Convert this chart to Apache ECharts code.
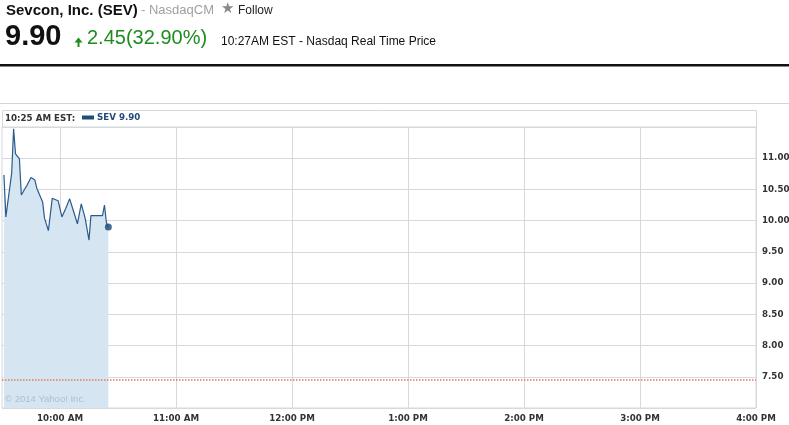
<!DOCTYPE html>
<html>
<head>
<meta charset="utf-8">
<title>Sevcon, Inc. (SEV)</title>
<script src="https://cdn.jsdelivr.net/npm/echarts@6/dist/echarts.min.js"></script>
<style>
  html, body { margin: 0; padding: 0; background: #fff; }
  #chart { width: 789px; height: 425px; }
</style>
</head>
<body>
<div id="chart"></div>
<script>
// intraday quotes (EST)
var times = ['9:31', '9:32', '9:35', '9:36', '9:37', '9:39', '9:40', '9:42', '9:43', '9:45',
  '9:47', '9:48', '9:51', '9:52', '9:54', '9:56', '9:57', '9:59', '10:00', '10:01',
  '10:03', '10:05', '10:07', '10:09', '10:11', '10:13', '10:15', '10:16', '10:19', '10:22',
  '10:23', '10:24', '10:25'];
var prices = [10.73, 10.06, 10.76, 11.47, 11.07, 10.99, 10.41, 10.52, 10.57, 10.69,
  10.65, 10.52, 10.30, 10.04, 9.84, 10.36, 10.37, 10.32, 10.30, 10.06,
  10.20, 10.35, 10.15, 9.95, 10.27, 10.04, 9.69, 10.08, 10.08, 10.08,
  10.25, 9.97, 9.90];
var prevClose = 7.45;
var sessionOpen = '9:30';
var sessionClose = '16:00';
var hourLabels = ['10:00 AM', '11:00 AM', '12:00 PM', '1:00 PM', '2:00 PM', '3:00 PM', '4:00 PM'];

var quote = { name: 'Sevcon, Inc. (SEV)', exchange: 'NasdaqCM', last: '9.90', change: '2.45', pct: '(32.90%)', stamp: '10:27AM EST - Nasdaq Real Time Price' };

function toMin(t) {
  var p = t.split(':');
  return parseInt(p[0], 10) * 60 + parseInt(p[1], 10);
}

var seriesData = times.map(function (t, i) { return [toMin(t), prices[i]]; });
var lastPoint = seriesData[seriesData.length - 1];

var small = 'bold 8.7px "DejaVu Sans"';
var axisFont = { fontFamily: 'DejaVu Sans', fontWeight: 'bold', fontSize: 8.7, color: '#333' };

var chart = echarts.init(document.getElementById('chart'), null, { renderer: 'canvas' });

var option = {
  animation: false,
  backgroundColor: '#fff',
  grid: {
    left: 2, right: 33, top: 127, bottom: 17,
    outerBoundsMode: 'none',
    containLabel: false,
    show: true, borderColor: '#d3d8dc', borderWidth: 1, backgroundColor: '#fff'
  },
  legend: {
    data: ['SEV'],
    left: 82, top: 113,
    icon: 'rect', itemWidth: 12, itemHeight: 4, itemGap: 4,
    padding: 0,
    formatter: function (n) { return n + ' ' + quote.last; },
    textStyle: { fontFamily: 'DejaVu Sans', fontWeight: 'bold', fontSize: 8.7, color: '#1f4a78', padding: [0, 0, 0, -2] }
  },
  xAxis: {
    type: 'value',
    min: toMin(sessionOpen), max: toMin(sessionClose), interval: 30,
    axisLine: { show: false },
    axisTick: { show: false },
    axisLabel: Object.assign({
      margin: 6,
      formatter: function (v) {
        if (v % 60 !== 0) return '';
        return hourLabels[(v - 600) / 60] || '';
      }
    }, axisFont),
    splitLine: { show: true, lineStyle: { color: ['rgba(0,0,0,0)', '#d5dadf'], width: 1 } }
  },
  yAxis: {
    type: 'value', position: 'right',
    min: 7, max: 11.5, interval: 0.5,
    axisLine: { show: false },
    axisTick: { show: false },
    axisLabel: Object.assign({
      margin: 6,
      formatter: function (v) { return (v <= 7 || v >= 11.5) ? '' : v.toFixed(2); }
    }, axisFont),
    splitLine: { lineStyle: { color: '#d5dadf' } }
  },
  series: [
    {
      name: 'SEV', type: 'line', data: seriesData,
      showSymbol: false,
      color: '#1f4e79',
      lineStyle: { color: '#2b5b8c', width: 1.2 },
      areaStyle: { color: '#d5e5f1', opacity: 1, origin: 'start' },
      markLine: {
        silent: true, symbol: ['none', 'none'],
        label: { show: false },
        lineStyle: { color: '#e07b5a', type: 'dotted', width: 1.5 },
        data: [{ yAxis: prevClose }]
      },
      z: 2
    },
    {
      name: 'last', type: 'scatter', data: [lastPoint],
      symbolSize: 7, itemStyle: { color: '#1a4674' }, z: 3
    }
  ],
  graphic: [
    // header
    { type: 'text', left: 6, top: 3, style: { text: quote.name, font: 'bold 15px "Liberation Sans"', fill: '#111' } },
    { type: 'text', left: 141, top: 4, style: { text: '- ' + quote.exchange, font: '13px "Liberation Sans"', fill: '#a0a0a0' } },
    { type: 'text', left: 221, top: 2, style: { text: '\u2605', font: '15px "DejaVu Sans"', fill: '#8a8a8a' } },
    { type: 'text', left: 238, top: 5, style: { text: 'Follow', font: '12px "Liberation Sans"', fill: '#222' } },
    { type: 'text', left: 5, top: 22, style: { text: quote.last, font: 'bold 29px "Liberation Sans"', fill: '#111' } },
    { type: 'polygon', shape: { points: [[74.5, 42.5], [78.5, 37.5], [82.5, 42.5]] }, style: { fill: '#1e8c1e' } },
    { type: 'rect', shape: { x: 77.5, y: 42, width: 2, height: 5 }, style: { fill: '#1e8c1e' } },
    { type: 'text', left: 87, top: 28, style: { text: quote.change + quote.pct, font: '20px "Liberation Sans"', fill: '#1e8c1e' } },
    { type: 'text', left: 221, top: 36, style: { text: quote.stamp, font: '12px "Liberation Sans"', fill: '#111' } },
    { type: 'rect', shape: { x: 0, y: 64, width: 789, height: 2.5 }, style: { fill: '#111' } },
    { type: 'rect', shape: { x: 0, y: 103, width: 789, height: 1 }, style: { fill: '#d4d4d4' } },
    // header row of the chart box
    { type: 'rect', shape: { x: 2.5, y: 110.5, width: 754, height: 17 }, style: { fill: '#fff', stroke: '#d3d8dc', lineWidth: 1 }, z: -1 },
    { type: 'text', left: 5, top: 114, style: { text: times[times.length - 1] + ' AM EST:', font: small, fill: '#333' } },
    { type: 'text', left: 5, top: 394, style: { text: '\u00a9 2014 Yahoo! Inc.', font: '9.5px "Liberation Sans"', fill: '#aebfd0' }, z: 10 }
  ]
};

chart.setOption(option);
</script>
</body>
</html>
